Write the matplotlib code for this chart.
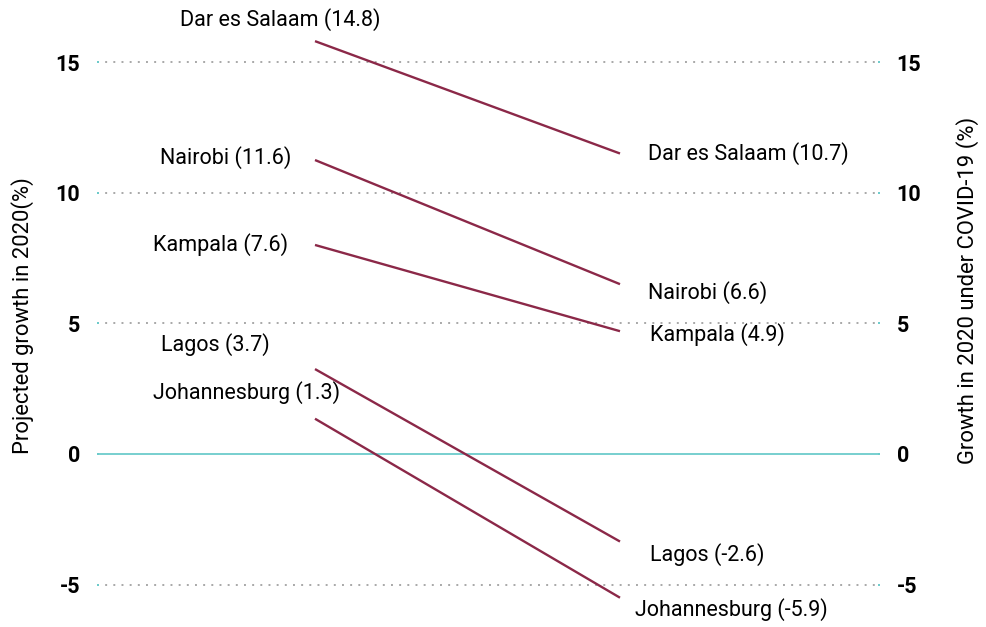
import matplotlib.pyplot as plt

cities = ['Dar es Salaam', 'Nairobi', 'Kampala', 'Lagos', 'Johannesburg']
projected = [14.8, 11.6, 7.6, 3.7, 1.3]
covid = [10.7, 6.6, 4.9, -2.6, -5.9]
# where the lines sit in the picture (they do not quite follow the labels)
line_start = [15.8, 11.25, 8.0, 3.25, 1.35]
line_end = [11.5, 6.5, 4.7, -3.35, -5.5]
yticks = [-5, 0, 5, 10, 15]

plt.rcParams['font.family'] = ['Roboto', 'DejaVu Sans']

W, H = 986, 627
fig = plt.figure(figsize=(W / 100, H / 100), dpi=100)
ax = fig.add_axes([97 / W, 0, (880 - 97) / W, 1])

# pixel -> data helpers for text placement
def px(x):
    return (x - 315) / 305

def py(y):
    return (454 - y) / 26.13

ax.set_xlim(px(97), px(880))
ax.set_ylim(py(627), py(0))

maroon = '#8b2848'
teal = '#6ccbcb'

for v in yticks:
    if v == 0:
        ax.axhline(0, color=teal, lw=1.3, zorder=1)
    else:
        ax.axhline(v, color='#a8a8a8', lw=1.4, linestyle=(0, (1, 3.2)), zorder=1)

for s, e in zip(line_start, line_end):
    ax.plot([0, 1], [s, e], color=maroon, lw=1.7, solid_capstyle='butt', zorder=2)

left_pos = [(180, 20), (160, 158), (153, 245), (161, 345), (153, 393)]
right_pos = [(648, 154), (648, 293), (650, 335), (650, 555), (635, 610)]
for i, c in enumerate(cities):
    ax.text(px(left_pos[i][0]), py(left_pos[i][1]), f'{c} ({projected[i]})',
            ha='left', va='center', fontsize=15.5, clip_on=False)
    ax.text(px(right_pos[i][0]), py(right_pos[i][1]), f'{c} ({covid[i]})',
            ha='left', va='center', fontsize=15.5, clip_on=False)

ax2 = ax.twinx()
ax2.set_ylim(ax.get_ylim())
for a in (ax, ax2):
    a.set_yticks(yticks)
    a.set_yticklabels([str(t) for t in yticks], fontsize=15.5, fontweight='bold')
    a.tick_params(axis='y', length=1.5, width=1.4, direction='in', color=teal, pad=12)
    for sp in a.spines.values():
        sp.set_visible(False)
ax.set_xticks([])

fig.text(23 / W, 1 - 316 / H, 'Projected growth in 2020(%)', rotation=90,
         ha='center', va='center', fontsize=15.8)
fig.text(968 / W, 1 - 290 / H, 'Growth in 2020 under COVID-19 (%)', rotation=90,
         ha='center', va='center', fontsize=15.8)

fig.savefig('out.png', dpi=100)
